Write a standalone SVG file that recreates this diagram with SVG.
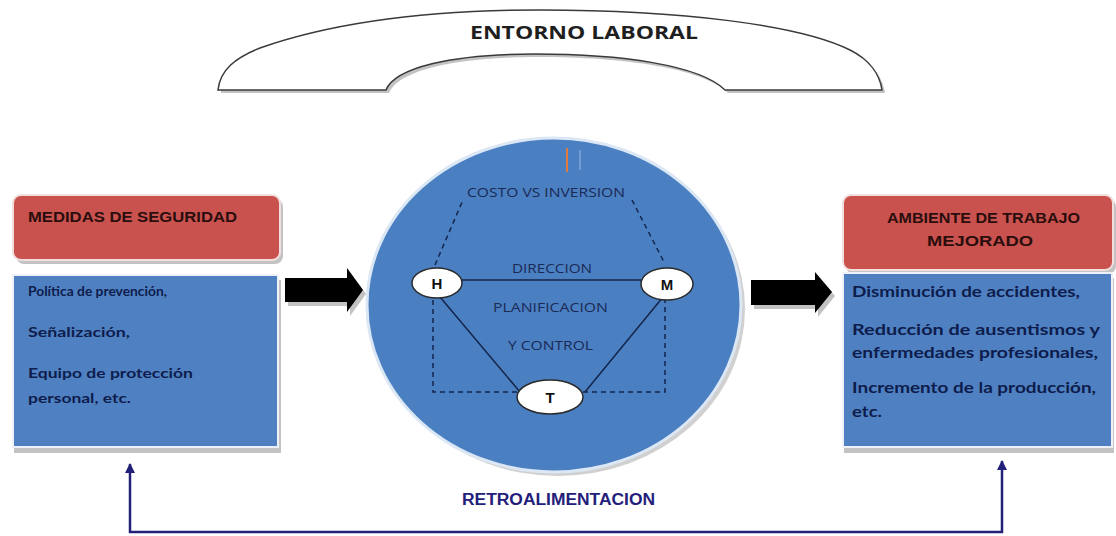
<svg xmlns="http://www.w3.org/2000/svg" width="1116" height="536" viewBox="0 0 1116 536">
<style>
.bg{fill:#ffffff}
.shadow{fill:#a9a9a9;opacity:0.7}
.redbox{fill:#c9524e;stroke:#f3dede;stroke-width:2}
.bluebox{fill:#4f81c2;stroke:#eef2f8;stroke-width:2}
.hdr{font-family:"Liberation Sans",Arial,sans-serif;font-weight:bold;font-size:14px;fill:#2a0d0d}
.body{font-family:Lato,"Open Sans",sans-serif;font-weight:bold;fill:#0e1c4c}
.mid{font-family:"Open Sans","Liberation Sans",sans-serif;font-size:12px;fill:#1a2a55}
.node{fill:#ffffff;stroke:#2b2b2b;stroke-width:1.5}
.nlbl{font-family:"Liberation Sans",Arial,sans-serif;font-weight:bold;font-size:15px;fill:#111111;text-anchor:middle}
.solid{stroke:#15254a;stroke-width:1.5;fill:none}
.dash{stroke:#15254a;stroke-width:1.5;fill:none;stroke-dasharray:5 4}
.block{fill:#000000}
.feed{stroke:#23207a;stroke-width:2.5;fill:none}
</style>
<defs>
<marker id="up" viewBox="0 0 10 10" refX="9" refY="5" markerWidth="4" markerHeight="4" orient="auto-start-reverse" markerUnits="strokeWidth">
<path d="M0 0 L10 5 L0 10 Z" fill="#23207a"/>
</marker>
</defs>
<rect class="bg" x="0" y="0" width="1116" height="536"/>

<g id="entorno-laboral">
<path class="shadow" d="M 221 93 C 223 73, 238 61, 263 51 C 343 23, 443 13, 543 13 C 683 13, 803 28, 853 53 C 873 63, 883 78, 885 93 L 728 93 C 703 68, 623 57, 538 57 C 453 57, 398 71, 389 93 Z"/>
<path d="M 218 90 C 220 70, 235 58, 260 48 C 340 20, 440 10, 540 10 C 680 10, 800 25, 850 50 C 870 60, 880 75, 882 90 L 725 90 C 700 65, 620 54, 535 54 C 450 54, 395 68, 386 90 Z" fill="#ffffff" stroke="#3a3a3a" stroke-width="1.5"/>
<text x="470" y="39" font-family="Open Sans,Lato,sans-serif" font-weight="bold" font-size="17" fill="#1e1e1e" textLength="228" lengthAdjust="spacingAndGlyphs">ENTORNO LABORAL</text>
</g>

<g id="medidas-seguridad">
<rect class="shadow" x="16" y="199" width="267" height="65" rx="8"/>
<rect class="redbox" x="13" y="195" width="267" height="65" rx="8"/>
<text class="hdr" x="28" y="222" textLength="209" lengthAdjust="spacingAndGlyphs">MEDIDAS DE SEGURIDAD</text>
</g>

<g id="medidas-lista">
<rect class="shadow" x="14" y="280" width="267" height="173"/>
<rect class="bluebox" x="13" y="275" width="265" height="172"/>
<text class="body" font-size="14" x="28" y="296" textLength="139" lengthAdjust="spacingAndGlyphs">Política de prevención,</text>
<text class="body" font-size="14" x="28" y="337" textLength="102" lengthAdjust="spacingAndGlyphs">Señalización,</text>
<text class="body" font-size="14" x="28" y="378" textLength="165" lengthAdjust="spacingAndGlyphs">Equipo de protección</text>
<text class="body" font-size="14" x="28" y="403" textLength="103" lengthAdjust="spacingAndGlyphs">personal, etc.</text>
</g>

<g id="centro">
<ellipse cx="558" cy="309" rx="187" ry="167" fill="#b0b0b0" opacity="0.6"/>
<ellipse cx="554" cy="305" rx="187" ry="167" fill="#4a7fc2" stroke="#dbe7f4" stroke-width="3"/>
<line x1="567" y1="148" x2="567" y2="172" stroke="#e07b3c" stroke-width="2"/>
<line x1="580" y1="150" x2="580" y2="170" stroke="#7fa6d8" stroke-width="1.5"/>
<text class="mid" x="467" y="197" textLength="158" lengthAdjust="spacingAndGlyphs">COSTO VS INVERSION</text>
<text class="mid" x="512" y="273" textLength="80" lengthAdjust="spacingAndGlyphs">DIRECCION</text>
<text class="mid" x="493" y="312" textLength="115" lengthAdjust="spacingAndGlyphs">PLANIFICACION</text>
<text class="mid" x="508" y="350" textLength="85" lengthAdjust="spacingAndGlyphs">Y CONTROL</text>
</g>

<g id="connectors">
<line class="solid" x1="462" y1="280" x2="641" y2="280"/>
<line class="solid" x1="440" y1="297" x2="520" y2="392"/>
<line class="solid" x1="663" y1="297" x2="585" y2="392"/>
<path class="dash" d="M 435 265 L 463 200"/>
<path class="dash" d="M 632 200 L 665 264"/>
<path class="dash" d="M 433 300 L 433 392 L 518 392"/>
<path class="dash" d="M 583 392 L 665 392 L 665 300"/>
<polygon points="288,282 350,282 350,272 366,294 350,316 350,306 288,306" fill="#a8a8a8" opacity="0.7"/>
<polygon class="block" points="285,278 347,278 347,268 363,290 347,312 347,302 285,302"/>
<polygon points="754,284 818,284 818,276 835,296 818,317 818,309 754,309" fill="#a8a8a8" opacity="0.7"/>
<polygon class="block" points="751,280 815,280 815,272 832,292 815,313 815,305 751,305"/>
<path class="feed" d="M 130 464 L 130 532 L 1002 532 L 1002 461" marker-start="url(#up)" marker-end="url(#up)"/>
</g>

<g id="node-H">
<ellipse class="node" cx="437" cy="283" rx="25" ry="15"/>
<text class="nlbl" x="437" y="289">H</text>
</g>
<g id="node-M">
<ellipse class="node" cx="667" cy="284" rx="26" ry="16"/>
<text class="nlbl" x="667" y="290">M</text>
</g>
<g id="node-T">
<ellipse class="node" cx="550" cy="397" rx="33" ry="17"/>
<text class="nlbl" x="550" y="403">T</text>
</g>

<g id="ambiente-mejorado">
<rect class="shadow" x="846" y="199" width="270" height="75" rx="8"/>
<rect class="redbox" x="843" y="195" width="270" height="75" rx="8"/>
<text class="hdr" x="887" y="223" textLength="193" lengthAdjust="spacingAndGlyphs">AMBIENTE DE TRABAJO</text>
<text class="hdr" x="927" y="246" textLength="106" lengthAdjust="spacingAndGlyphs">MEJORADO</text>
</g>

<g id="ambiente-lista">
<rect class="shadow" x="844" y="278" width="270" height="175"/>
<rect class="bluebox" x="843" y="273" width="269" height="174"/>
<text class="body" font-size="16" x="852" y="297" textLength="228" lengthAdjust="spacingAndGlyphs">Disminución de accidentes,</text>
<text class="body" font-size="16" x="852" y="335" textLength="248" lengthAdjust="spacingAndGlyphs">Reducción de ausentismos y</text>
<text class="body" font-size="16" x="852" y="358" textLength="246" lengthAdjust="spacingAndGlyphs">enfermedades profesionales,</text>
<text class="body" font-size="16" x="852" y="393" textLength="244" lengthAdjust="spacingAndGlyphs">Incremento de la producción,</text>
<text class="body" font-size="16" x="852" y="417" textLength="30" lengthAdjust="spacingAndGlyphs">etc.</text>
</g>

<g id="retroalimentacion">
<text x="462" y="505" font-family="Liberation Sans,Arial,sans-serif" font-weight="bold" font-size="16" fill="#23207a" textLength="193" lengthAdjust="spacingAndGlyphs">RETROALIMENTACION</text>
</g>
</svg>
